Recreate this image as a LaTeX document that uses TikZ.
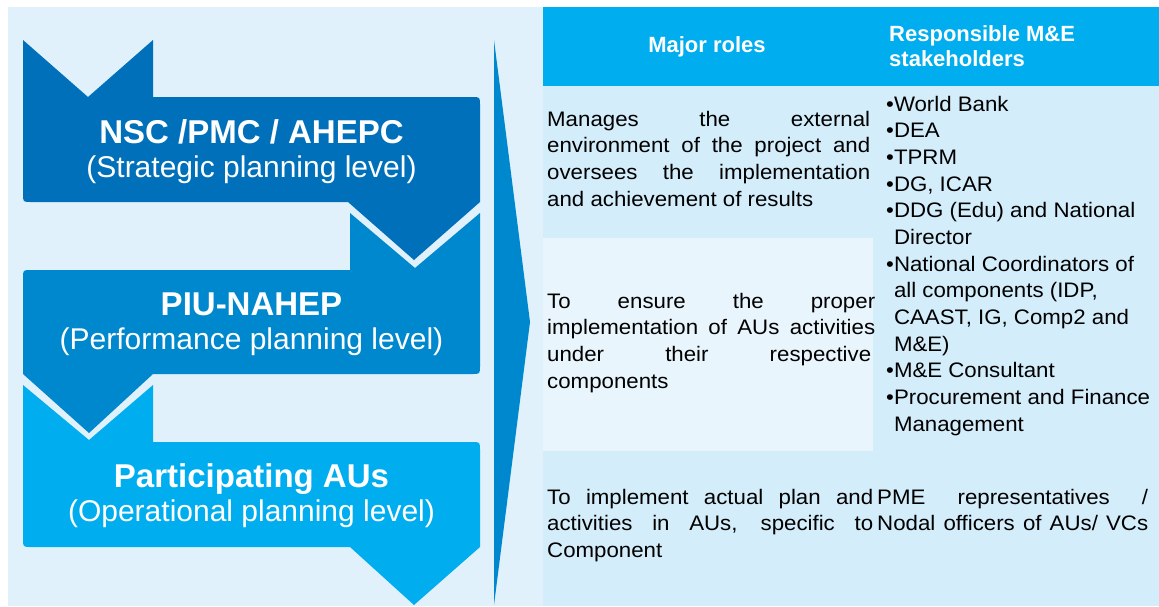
\documentclass[tikz,border=0pt]{standalone}
\usepackage{fontspec}
\setmainfont{Liberation Sans}
\newfontfamily\tfont[FakeStretch=1.06]{Liberation Sans}
\definecolor{bglight}{HTML}{E0F1FB}
\definecolor{rowcol}{HTML}{D3EDFA}
\definecolor{rowlight}{HTML}{E9F5FC}
\definecolor{headcol}{HTML}{00AEEF}
\definecolor{shapeone}{HTML}{0070BA}
\definecolor{shapetwo}{HTML}{0088CE}
\definecolor{shapethree}{HTML}{00AEEF}
\newcommand\jline[2]{\makebox[#1][s]{#2}}
\newcommand\celltxt{\tfont\fontsize{21}{26.67}\selectfont}
\tikzset{
  titletext/.style={text=white, inner sep=0pt, anchor=base},
  celltext/.style={text=black, inner sep=0pt, anchor=base west},
  headtext/.style={text=white, inner sep=0pt},
}
\begin{document}
\begin{tikzpicture}[x=1pt,y=-1pt]
\useasboundingbox (0,0) rectangle (1159,606);
% background
\fill[bglight] (8,7) rectangle (1159,606);
% table
\fill[headcol] (543,7) rectangle (1159,86);
\fill[rowcol] (543,86) rectangle (1159,606);
\fill[rowlight] (543,238) rectangle (873,451);
% shape 1
\fill[shapeone] (23,40) -- (88,97) -- (153,40) -- (153,97) -- (472,97)
  .. controls (480,97) .. (480,105) -- (480,202) -- (414,260) -- (348,202)
  -- (31,202) .. controls (23,202) .. (23,194) -- cycle;
% shape 2
\fill[shapetwo] (23,278) .. controls (23,270) .. (31,270) -- (350,270)
  -- (350,213) -- (415,268) -- (480,213) -- (480,366)
  .. controls (480,374) .. (472,374) -- (153,374) -- (89,433) -- (23,374) -- cycle;
% shape 3
\fill[shapethree] (23,385) -- (89,440) -- (153,385) -- (153,442) -- (472,442)
  .. controls (480,442) .. (480,450) -- (480,547) -- (414,605) -- (350,547)
  -- (31,547) .. controls (23,547) .. (23,539) -- cycle;
% big arrow
\fill[shapetwo] (494,40) -- (530,322) -- (494,605) -- cycle;
% titles
\node[titletext] (t1) at (251.5,143) {\parbox[t]{440pt}{\centering\fontsize{33}{34}\selectfont
\textbf{NSC /PMC / AHEPC}\\ \fontsize{30}{34}\selectfont(Strategic planning level)}};
\node[titletext] (t2) at (251.5,315) {\parbox[t]{440pt}{\centering\fontsize{33}{34}\selectfont
\textbf{PIU-NAHEP}\\ \fontsize{30}{34}\selectfont(Performance planning level)}};
\node[titletext] (t3) at (251.5,487) {\parbox[t]{440pt}{\centering\fontsize{33}{34}\selectfont
\textbf{Participating AUs}\\ \fontsize{30}{34}\selectfont(Operational planning level)}};
% header
\node[headtext, anchor=base] (hroles) at (707,52) {\fontsize{22}{25}\selectfont\bfseries Major roles};
\node[headtext, anchor=base west] (hstake) at (889,41) {\parbox[t]{260pt}{\fontsize{22}{25}\selectfont\bfseries
Responsible M\&E\\
stakeholders}};
% row 1
\node[celltext] (r1c1) at (547,126) {\parbox[t]{330pt}{\celltxt
\jline{323pt}{Manages the external}\\
\jline{323pt}{environment of the project and}\\
\jline{323pt}{oversees the implementation}\\
and achievement of results}};
% stakeholders list
\node[celltext] (r1c2) at (886,111) {\parbox[t]{290pt}{\celltxt
•World Bank\\
•DEA\\
•TPRM\\
•DG, ICAR\\
•DDG (Edu) and National\\
\phantom{•}Director\\
•National Coordinators of\\
\phantom{•}all components (IDP,\\
\phantom{•}CAAST, IG, Comp2 and\\
\phantom{•}M\&E)\\
•M\&E Consultant\\
•Procurement and Finance\\
\phantom{•}Management}};
% row 2
\node[celltext] (r2c1) at (547,308) {\parbox[t]{330pt}{\celltxt
\jline{328pt}{To ensure the proper}\\
\jline{328pt}{implementation of AUs activities}\\
\jline{324pt}{under their respective}\\
components}};
% row 3
\node[celltext] (r3c1) at (547,504) {\parbox[t]{330pt}{\celltxt
\jline{326pt}{To implement actual plan and}\\
\jline{326pt}{activities in AUs, specific to}\\
Component}};
\node[celltext] (r3c2) at (877,504) {\parbox[t]{275pt}{\celltxt
\jline{271pt}{PME representatives /}\\
\jline{271pt}{Nodal officers of AUs/ VCs}}};
\end{tikzpicture}
\end{document}
